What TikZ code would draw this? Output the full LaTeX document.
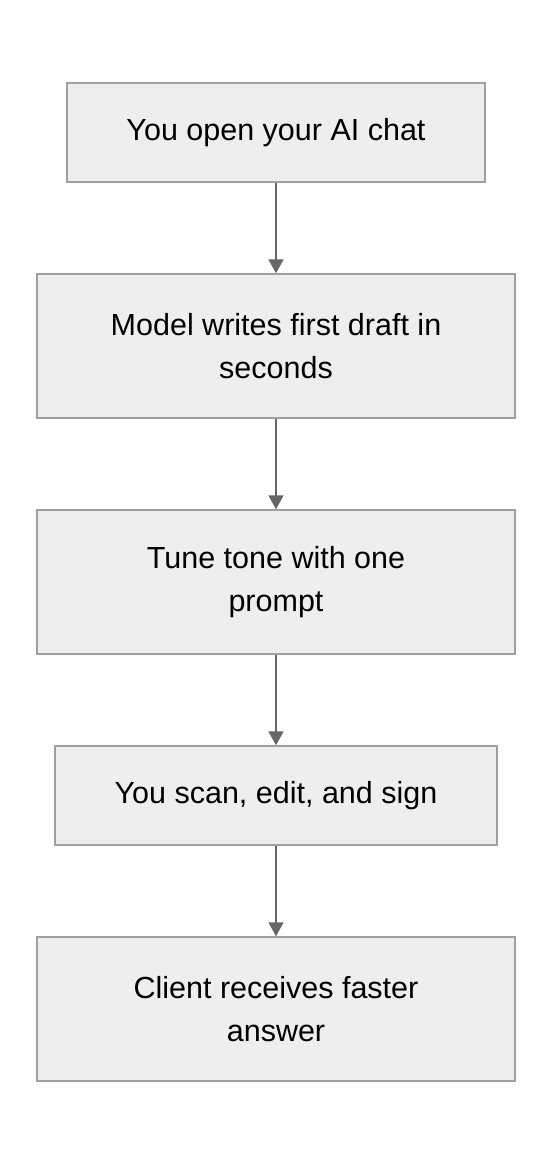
\documentclass[tikz,border=0pt]{standalone}
\usepackage{fontspec}
\setmainfont{Liberation Sans}
\usetikzlibrary{arrows.meta}
\definecolor{boxfill}{HTML}{EEEEEE}
\definecolor{boxline}{HTML}{A0A0A0}
\definecolor{arrowgray}{HTML}{666666}
\tikzset{
  stepbox/.style={draw=boxline,fill=boxfill,line width=1.5pt,align=center,
    inner sep=0pt,font=\fontsize{30.5}{43}\selectfont},
  flow/.style={-{Triangle[width=15pt,length=14pt]},line width=1.8pt,color=arrowgray}
}
\begin{document}
\begin{tikzpicture}[x=1pt,y=-1pt]
  \useasboundingbox (0,0) rectangle (552,1164);

  \node[stepbox,minimum width=418pt,minimum height=99pt] (open) at (276,132.5) {You open your AI chat};
  \node[stepbox,minimum width=478pt,minimum height=144pt] (draft) at (276,346) {Model writes first draft in\\seconds};
  \node[stepbox,minimum width=478pt,minimum height=144pt] (tone) at (276,582) {Tune tone with one\\prompt};
  \node[stepbox,minimum width=442pt,minimum height=99pt] (sign) at (276,795.5) {You scan, edit, and sign};
  \node[stepbox,minimum width=478pt,minimum height=144pt] (client) at (276,1009) {Client receives faster\\answer};

  \draw[flow] (open) -- (draft);
  \draw[flow] (draft) -- (tone);
  \draw[flow] (tone) -- (sign);
  \draw[flow] (sign) -- (client);
\end{tikzpicture}
\end{document}
